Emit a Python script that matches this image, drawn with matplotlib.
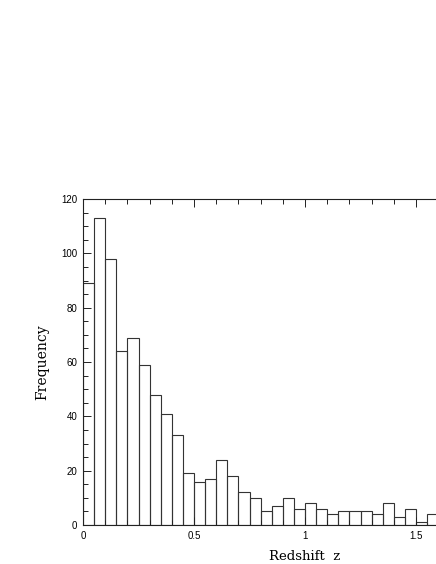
import numpy as np
import matplotlib
matplotlib.use("Agg")
import matplotlib.pyplot as plt
from matplotlib.ticker import MultipleLocator, FixedLocator

# histogram of redshifts, bin width 0.05 starting at z=0
bin_width = 0.05
counts = [89, 113, 98, 64, 69, 59, 48, 41, 33, 19,
          16, 17, 24, 18, 12, 10, 5, 7, 10, 6,
          8, 6, 4, 5, 5, 5, 4, 8, 3, 6,
          1, 4]
bin_left = np.arange(len(counts)) * bin_width
x_ticks = [0, 0.5, 1, 1.5]
x_labels = ['0', '0.5', '1', '1.5']

plt.rcParams['font.family'] = ['Liberation Sans', 'DejaVu Sans']

fig = plt.figure(figsize=(4.36, 5.64), dpi=100)
# axes run off the right edge of the picture, as in the original
ax = fig.add_axes([83 / 436, 39 / 564, 444 / 436, 326 / 564])

ax.bar(bin_left, counts, width=bin_width, align='edge', fill=False,
       edgecolor='#333333', linewidth=0.8)

ax.set_xlim(0, 2)
ax.set_ylim(0, 120)
ax.xaxis.set_major_locator(FixedLocator(x_ticks))
ax.set_xticklabels(x_labels)
ax.xaxis.set_minor_locator(MultipleLocator(0.1))
ax.yaxis.set_major_locator(MultipleLocator(20))
ax.yaxis.set_minor_locator(MultipleLocator(5))

ax.tick_params(which='both', direction='in', top=True, right=True,
               labelsize=7, width=0.7, color='#222222')
ax.tick_params(which='major', length=6, pad=4)
ax.tick_params(which='minor', length=3.5)
for s in ax.spines.values():
    s.set_linewidth(0.8)
    s.set_color('#222222')

ax.set_xlabel('Redshift  z', labelpad=7, family='DejaVu Serif', fontsize=9.5)
ax.set_ylabel('Frequency', labelpad=9, family='DejaVu Serif', fontsize=10)

fig.savefig('out.png', dpi=100)
